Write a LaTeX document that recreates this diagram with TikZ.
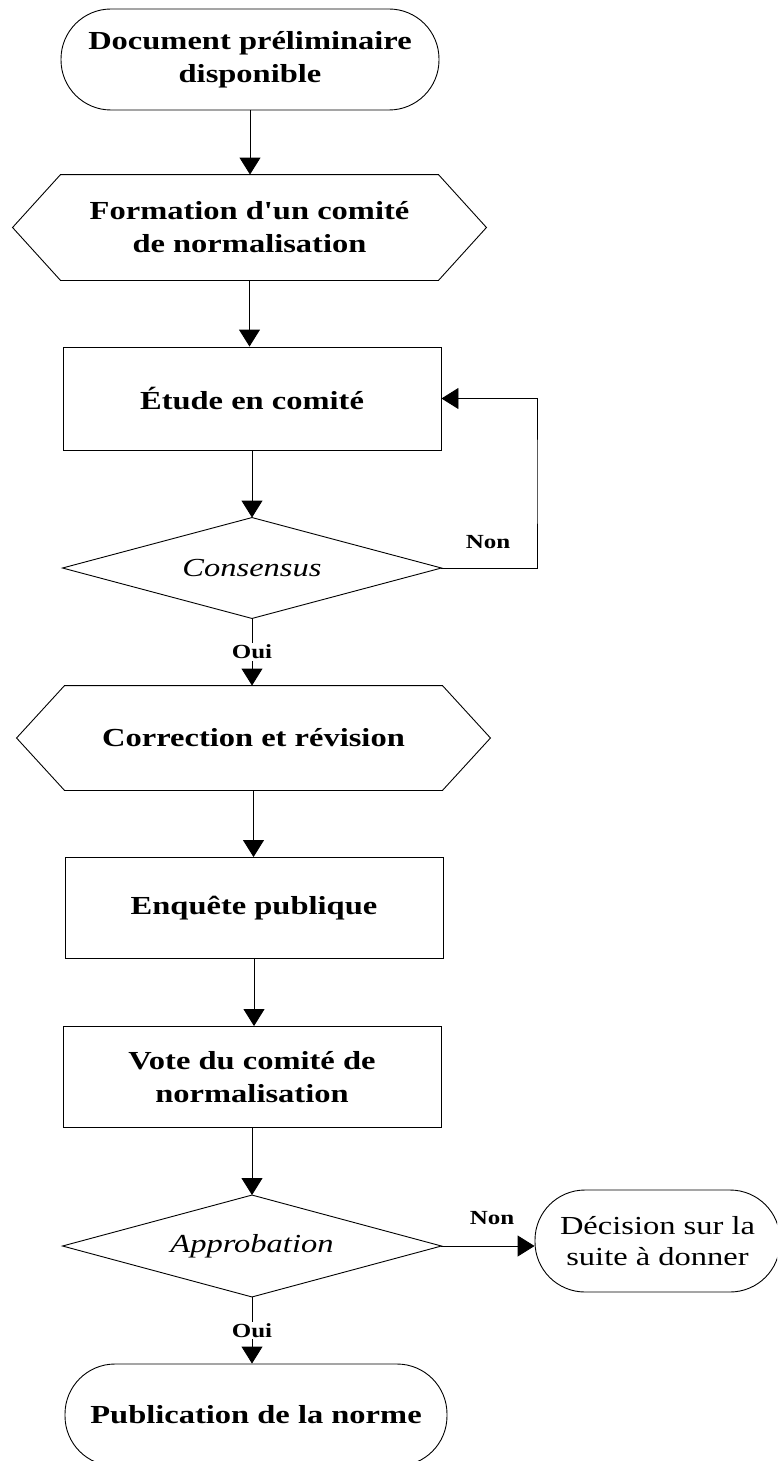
\documentclass[tikz,border=0pt]{standalone}
\usepackage{fontspec}
\setmainfont{Liberation Serif}[FakeStretch=1.25]
\newfontfamily\rawserif{Liberation Serif}[FakeStretch=1.25]
\usetikzlibrary{arrows.meta,calc}
\newcommand\hexoutline[1]{%
  \draw (#1.west) -- ($(#1.north west)+(48,0)$) -- ($(#1.north east)+(-48,0)$)
    -- (#1.east) -- ($(#1.south east)+(-48,0)$) -- ($(#1.south west)+(48,0)$) -- cycle;}
\newcommand\diaoutline[1]{%
  \draw (#1.north) -- (#1.east) -- (#1.south) -- (#1.west) -- cycle;}
\begin{document}
\begin{tikzpicture}[x=1pt,y=-1pt,line width=0.9pt,
  txt/.style={font=\rawserif\fontsize{26}{33}\selectfont\bfseries},
  box/.style={txt,draw,rectangle,minimum width=378pt,minimum height=102pt,inner sep=0pt,align=center},
  term/.style={box,rounded corners=50pt},
  hexa/.style={txt,rectangle,minimum width=473pt,minimum height=105pt,inner sep=0pt,align=center},
  deci/.style={rectangle,minimum width=378pt,minimum height=100pt,inner sep=0pt,font=\rawserif\fontsize{26}{33}\selectfont\itshape},
  lbl/.style={font=\rawserif\fontsize{20}{22}\selectfont\bfseries,fill=white,inner sep=1.5pt},
  arr/.style={-{Triangle[width=21pt,length=17pt]}}]
\clip (0,0) rectangle (777,1461);

\node[term,minimum width=378pt,minimum height=101pt] (doc) at (250,59.5) {Document préliminaire\\disponible};
\node[hexa] (h1) at (249.5,227.5) {Formation d'un comité\\de normalisation};
\hexoutline{h1}
\node[box,minimum height=103pt] (etude) at (252,398.5) {Étude en comité};
\node[deci] (d1) at (252,568) {Consensus};
\diaoutline{d1}
\node[hexa,minimum height=104pt] (h2) at (253.5,738) {Correction et révision};
\hexoutline{h2}
\node[box,minimum height=101pt] (enq) at (254,908) {Enquête publique};
\node[box,minimum height=101pt] (vote) at (252,1077) {Vote du comité de\\normalisation};
\node[deci,minimum height=101pt] (d2) at (252,1246) {Approbation};
\diaoutline{d2}
\node[term,minimum width=245pt,minimum height=102pt,font=\rawserif\fontsize{26}{31}\selectfont\mdseries] (dec) at (657.5,1241) {Décision sur la\\suite à donner};
\node[term,minimum width=382pt,minimum height=102pt] (pub) at (256,1415) {Publication de la norme};

\coordinate (loop) at (537,480);

\draw[arr] (doc.south) -- (doc.south |- h1.north);
\draw[arr] (h1.south) -- (h1.south |- etude.north);
\draw[arr] (etude.south) -- (etude.south |- d1.north);
\draw[arr] (d1.east) -| (loop) |- (etude.east);
\node[lbl,fill=none] (non1) at (488,542) {Non};
\draw[arr] (d1.south) -- (d1.south |- h2.north) node[lbl,midway] (oui1) {Oui};
\draw[arr] (h2.south) -- (h2.south |- enq.north);
\draw[arr] (enq.south) -- (enq.south |- vote.north);
\draw[arr] (vote.south) -- (vote.south |- d2.north);
\draw[arr] (d2.east) -- (d2.east -| dec.west);
\node[lbl,fill=none] (non2) at (492,1218) {Non};
\draw[arr] (d2.south) -- (d2.south |- pub.north) node[lbl,midway] (oui2) {Oui};
\end{tikzpicture}
\end{document}
